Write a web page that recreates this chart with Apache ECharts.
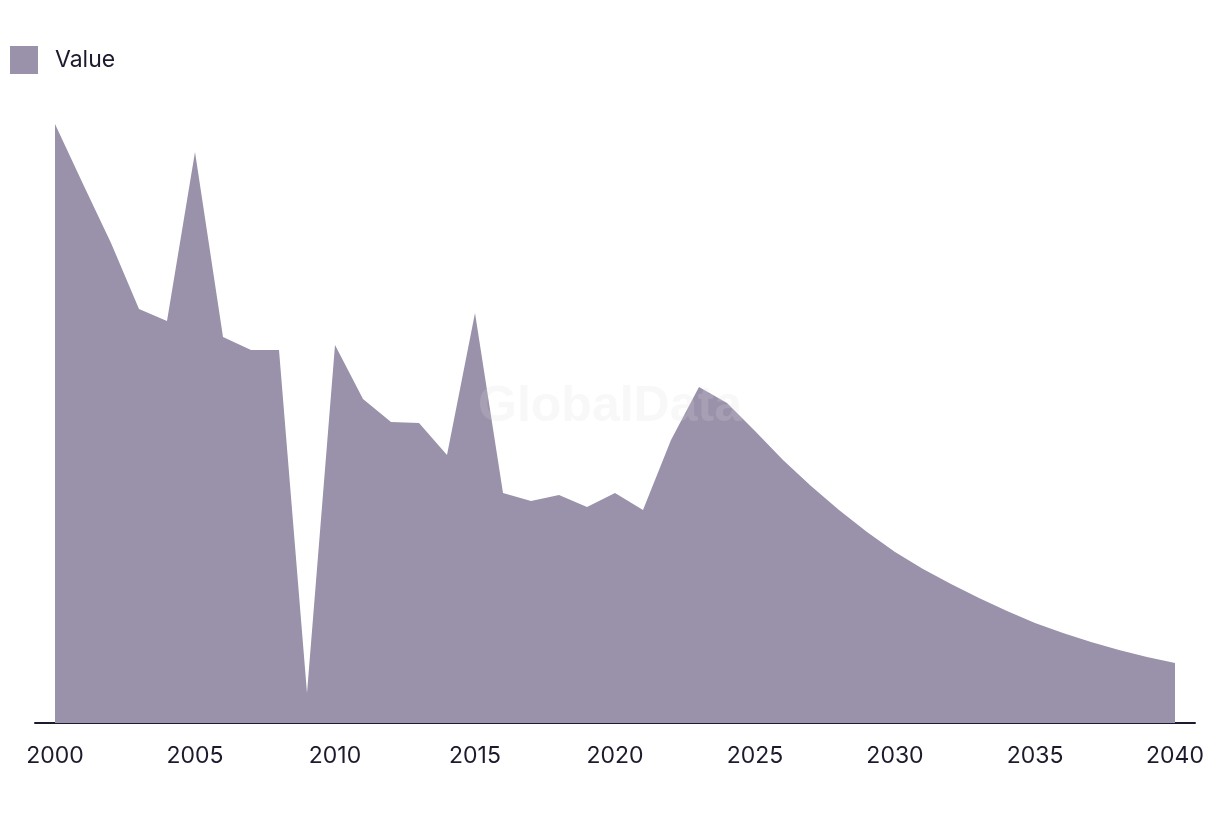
<!DOCTYPE html>
<html>
<head>
<meta charset="utf-8">
<script src="https://cdn.jsdelivr.net/npm/echarts@6/dist/echarts.min.js"></script>
<style>
html,body{margin:0;padding:0;background:#fff;}
#chart{width:1220px;height:814px;}
</style>
</head>
<body>
<div id="chart"></div>
<script>
const years = [2000,2001,2002,2003,2004,2005,2006,2007,2008,2009,2010,2011,2012,2013,2014,2015,2016,2017,2018,2019,2020,2021,2022,2023,2024,2025,2026,2027,2028,2029,2030,2031,2032,2033,2034,2035,2036,2037,2038,2039,2040];
const values = [599,539,480,414,402,571,386,373,373,30,378,324,301,300,268,410,230,222,228,216,230,213,283,336,320,292,263,237,213,191,171,154,139,125,112,100,90,81,73,66,60];
const tickLabels = [2000,2005,2010,2015,2020,2025,2030,2035,2040];
const seriesName = 'Value';
const watermark = 'GlobalData';

const fontFamily = 'Inter, "Liberation Sans", sans-serif';
const textColor = '#1c1b2e';
const areaColor = '#9a91aa';

const chart = echarts.init(document.getElementById('chart'), null, {renderer:'canvas'});
chart.setOption({
  animation: false,
  backgroundColor: '#ffffff',
  textStyle: {fontFamily: fontFamily},
  legend: {
    left: 10, top: 46,
    padding: 0,
    itemWidth: 28, itemHeight: 28,
    icon: 'rect',
    itemGap: 20,
    textStyle: {fontSize: 23, color: textColor, fontFamily: fontFamily, padding: [0,0,3,12]},
    data: [seriesName]
  },
  grid: {left: 35, right: 25, top: 123, bottom: 91, containLabel: false},
  xAxis: {
    type: 'value',
    min: 2000 - 20/28,
    max: 2040 + 20/28,
    splitLine: {show: false},
    axisLine: {show: true, lineStyle: {color: textColor, width: 2}},
    axisTick: {show: false},
    axisLabel: {
      customValues: tickLabels,
      fontSize: 23,
      color: textColor,
      fontFamily: fontFamily,
      margin: 22,
      formatter: v => String(v)
    }
  },
  yAxis: {
    type: 'value', min: 0, max: 600,
    show: false,
    splitLine: {show: false}
  },
  graphic: [{
    type: 'text',
    left: 'center',
    top: 382,
    z: 100,
    style: {
      text: watermark,
      fontSize: 50,
      fontWeight: 'bold',
      fontFamily: '"Liberation Sans", Arial, sans-serif',
      fill: 'rgba(220,220,220,0.2)'
    }
  }],
  series: [{
    name: seriesName,
    type: 'line',
    data: years.map((y, i) => [y, values[i]]),
    showSymbol: false,
    symbol: 'none',
    lineStyle: {width: 0, color: areaColor},
    itemStyle: {color: areaColor},
    areaStyle: {color: areaColor, opacity: 1}
  }]
});
</script>
</body>
</html>
